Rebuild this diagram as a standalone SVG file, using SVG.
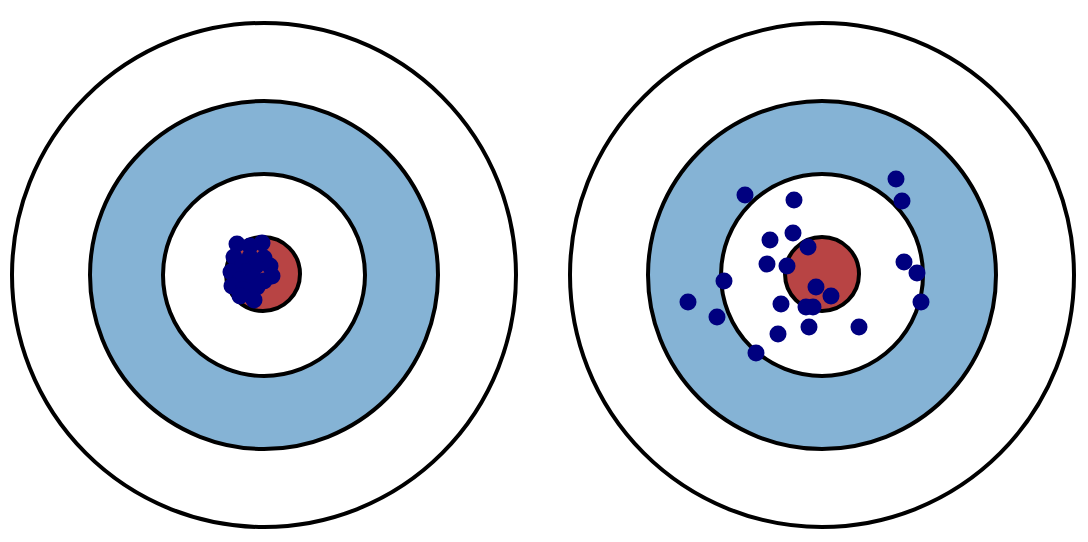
<svg xmlns="http://www.w3.org/2000/svg" width="1088" height="542" viewBox="0 0 1088 542">
<style>
.ring{stroke:#000;stroke-width:4}
.w{fill:#fff}
.b{fill:#85b3d5}
.r{fill:#b84444}
.d{fill:#00007f}
</style>
<rect width="1088" height="542" fill="#fff"/>
<g id="target-left">
<circle class="ring w" cx="264" cy="275" r="252"/>
<circle class="ring b" cx="264" cy="275" r="174"/>
<circle class="ring w" cx="264" cy="275" r="101"/>
<circle class="ring r" cx="263" cy="274" r="37"/>
</g>
<g id="target-right">
<circle class="ring w" cx="822" cy="275" r="252"/>
<circle class="ring b" cx="822" cy="275" r="174"/>
<circle class="ring w" cx="822" cy="275" r="101"/>
<circle class="ring r" cx="822" cy="274" r="37"/>
</g>
<g id="shots-left" class="d">
<circle cx="237" cy="244" r="8.5"/>
<circle cx="262" cy="243" r="8.5"/>
<circle cx="250" cy="246" r="8.5"/>
<circle cx="234" cy="257" r="8.5"/>
<circle cx="250" cy="257" r="8.5"/>
<circle cx="264" cy="258" r="8.5"/>
<circle cx="242" cy="266" r="8.5"/>
<circle cx="256" cy="266" r="8.5"/>
<circle cx="270" cy="266" r="8.5"/>
<circle cx="272" cy="276" r="8.5"/>
<circle cx="231" cy="272" r="8.5"/>
<circle cx="246" cy="272" r="8.5"/>
<circle cx="240" cy="280" r="8.5"/>
<circle cx="254" cy="279" r="8.5"/>
<circle cx="264" cy="281" r="8.5"/>
<circle cx="232" cy="286" r="8.5"/>
<circle cx="243" cy="290" r="8.5"/>
<circle cx="257" cy="287" r="8.5"/>
<circle cx="254" cy="300" r="8.5"/>
<circle cx="240" cy="296" r="8.5"/>
</g>
<g id="shots-right" class="d">
<circle cx="745" cy="195" r="8.5"/>
<circle cx="794" cy="200" r="8.5"/>
<circle cx="896" cy="179" r="8.5"/>
<circle cx="902" cy="201" r="8.5"/>
<circle cx="770" cy="240" r="8.5"/>
<circle cx="793" cy="233" r="8.5"/>
<circle cx="808" cy="247" r="8.5"/>
<circle cx="767" cy="264" r="8.5"/>
<circle cx="787" cy="266" r="8.5"/>
<circle cx="724" cy="281" r="8.5"/>
<circle cx="904" cy="262" r="8.5"/>
<circle cx="917" cy="273" r="8.5"/>
<circle cx="688" cy="302" r="8.5"/>
<circle cx="717" cy="317" r="8.5"/>
<circle cx="781" cy="304" r="8.5"/>
<circle cx="816" cy="287" r="8.5"/>
<circle cx="831" cy="296" r="8.5"/>
<circle cx="806" cy="307" r="8.5"/>
<circle cx="813" cy="307" r="8.5"/>
<circle cx="921" cy="302" r="8.5"/>
<circle cx="809" cy="327" r="8.5"/>
<circle cx="859" cy="327" r="8.5"/>
<circle cx="778" cy="334" r="8.5"/>
<circle cx="756" cy="353" r="8.5"/>
</g>
</svg>
